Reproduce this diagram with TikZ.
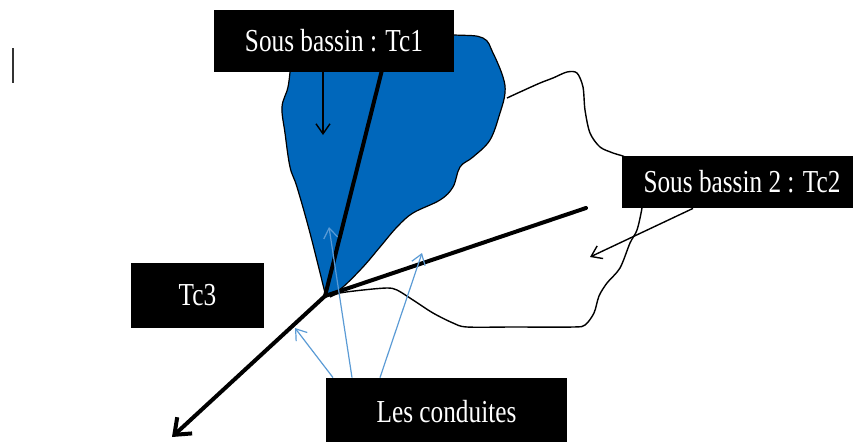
\documentclass[tikz,border=0pt]{standalone}
\usepackage{fontspec}
\newfontfamily\labelfont[FakeStretch=0.79]{Liberation Serif}
\usetikzlibrary{arrows.meta}
\definecolor{basinblue}{RGB}{0,103,187}
\definecolor{pipeblue}{RGB}{91,155,213}
\begin{document}
\begin{tikzpicture}[x=0.5pt, y=-0.5pt,
    label box/.style={rectangle, fill=black, text=white, inner sep=0pt, font=\labelfont\fontsize{16}{18}\selectfont},
    main line/.style={line width=2pt, line cap=round},
    thin arrow/.style={-{Straight Barb[length=5pt,width=7pt]}, line width=0.7pt},
    pipe arrow/.style={-{Straight Barb[length=5pt,width=7pt]}, line width=0.6pt, pipeblue}]

       \useasboundingbox (0, 0) rectangle (853, 441);

       % sub-basin 1 (filled)
       \draw[fill=basinblue, line width=0.6pt] (325, 296)
         -- plot[smooth, tension=0.6] coordinates {(325, 293) (310, 233) (297, 187) (290, 167)
            (285, 133) (282, 107) (288, 87) (292, 60) (300, 40) (380, 34) (454, 35) (483, 38)
            (493, 53) (503, 77) (505, 93) (500, 113) (490, 140) (473, 157) (460, 167)
            (453, 187) (440, 200) (413, 213) (397, 227) (380, 247) (363, 267) (343, 287) (333, 293)}
         -- cycle;

       % sub-basin 2 (outline only)
       \draw[line width=0.7pt] plot[smooth, tension=0.5] coordinates {(507, 98) (520, 92) (540, 83)
            (553, 78) (567, 72) (577, 73) (583, 87) (585, 110) (590, 133) (600, 147) (613, 153)
            (630, 160) (645, 185) (642, 208) (637, 230) (630, 243) (620, 268) (607, 283)
            (599, 296) (594, 313) (585, 325) (573, 327) (513, 327) (467, 327) (453, 323)
            (433, 313) (413, 300) (397, 290) (387, 288) (363, 290) (340, 293) (330, 297)};

       % main collectors
       \coordinate (junction) at (325, 296);
       \coordinate (end1) at (384, 62);
       \coordinate (end2) at (586, 208);
       \coordinate (outlet) at (172, 437);
       \draw[main line] (junction) to (end1);
       \draw[main line] (junction) to (end2);
       \draw[main line, -{Straight Barb[length=7pt,width=11pt,line width=2pt]}] (junction) to (outlet);

       % labels
       \node[label box, minimum width=120pt, minimum height=31pt] (tc1) at (334, 40.5) {Sous bassin : Tc1};
       \node[label box, minimum width=116pt, minimum height=26pt] (tc2) at (738, 182) {\hspace{4pt}Sous bassin 2 : Tc2};
       \node[label box, minimum width=66.5pt, minimum height=32.5pt] (tc3) at (197.5, 295.5) {Tc3};
       \node[label box, minimum width=120.5pt, minimum height=34pt] (pipes) at (446.5, 412) {Les conduites};

       % pointers
       \coordinate (tip1) at (323, 135);
       \coordinate (tip2) at (590, 257);
       \draw[thin arrow] ([xshift=-5.5pt]tc1.south) to (tip1);
       \draw[thin arrow] ([xshift=-22.5pt]tc2.south) to (tip2);

       \coordinate (pipe1) at (295, 328);
       \coordinate (pipe2) at (329, 227);
       \coordinate (pipe3) at (422, 253);
       \draw[pipe arrow] ([xshift=-56.75pt]pipes.north) to (pipe1);
       \draw[pipe arrow] ([xshift=-47.25pt]pipes.north) to (pipe2);
       \draw[pipe arrow] ([xshift=-33.25pt]pipes.north) to (pipe3);

       % cursor mark
       \coordinate (bar top) at (13, 48);
       \coordinate (bar bottom) at (13, 83);
       \draw[line width=1pt, black!80] (bar top) to (bar bottom);
     \end{tikzpicture}
\end{document}
